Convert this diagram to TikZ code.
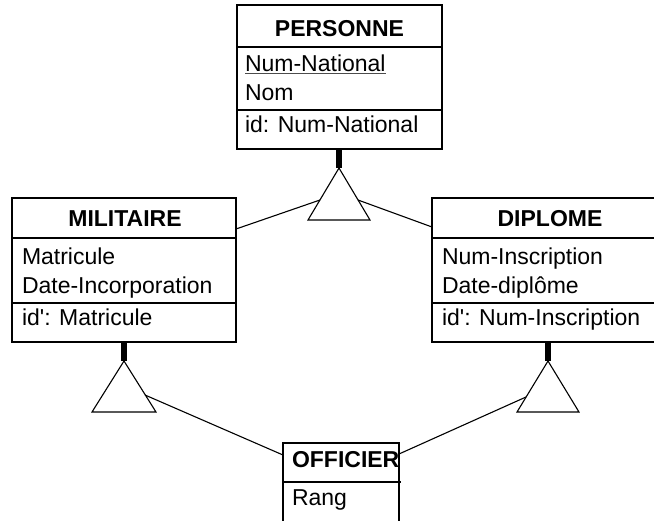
\documentclass[tikz,border=0pt]{standalone}
\usepackage{fontspec}
\setmainfont{Liberation Sans}[Ligatures=TeXOff]
\begin{document}
\begin{tikzpicture}[x=1pt,y=-1pt,
  every node/.style={inner sep=0pt,outer sep=0pt},
  entity/.style={draw,line width=1.1pt,rectangle,anchor=north west},
  sepline/.style={line width=1.1pt},
  title/.style={anchor=base,font=\fontsize{23}{27}\selectfont\bfseries},
  attr/.style={anchor=base west,font=\fontsize{23}{27}\selectfont},
  isabar/.style={line width=5.5pt},
  isatri/.style={draw,line width=1.1pt,fill=white,line join=miter},
  link/.style={line width=1.1pt}]
\useasboundingbox (0,0) rectangle (654,520);
\clip (0,0) rectangle (654,520);

% PERSONNE
\node[entity,minimum width=205pt,minimum height=144pt] (pers) at (237,5) {};
\draw[sepline] (237,47) -- (442,47) (237,110) -- (442,110);
\node[title] (persT) at (339.5,36) {PERSONNE};
\node[attr] (persA1) at (245,71) {Num-National};
\draw[line width=0.9pt,black!70] (persA1.base west) ++(0,2.5) -- (persA1.base east |- 0,73.5);
\node[attr] (persA2) at (245,100) {Nom};
\node[attr] (persI) at (245,132) {id: Num-National};

% MILITAIRE
\node[entity,minimum width=224pt,minimum height=144pt] (mil) at (12,198) {};
\draw[sepline] (12,238) -- (236,238) (12,303) -- (236,303);
\node[title] (milT) at (125,226) {MILITAIRE};
\node[attr] (milA1) at (22,264) {Matricule};
\node[attr] (milA2) at (22,293) {Date-Incorporation};
\node[attr] (milI) at (22,325) {id': Matricule};

% DIPLOME
\node[entity,minimum width=240pt,minimum height=144pt] (dip) at (432,198) {};
\draw[sepline] (432,238) -- (672,238) (432,303) -- (672,303);
\node[title] (dipT) at (550,226) {DIPLOME};
\node[attr] (dipA1) at (442,264) {Num-Inscription};
\node[attr] (dipA2) at (442,293) {Date-diplôme};
\node[attr] (dipI) at (442,325) {id': Num-Inscription};

% OFFICIER
\node[entity,minimum width=116pt,minimum height=100pt] (off) at (283,443) {};
\draw[sepline] (283,482) -- (401,482);
\node[attr,font=\fontsize{23}{27}\selectfont\bfseries] (offT) at (292,467) {OFFICIER};
\node[attr] (offA1) at (292,505) {Rang};

% is-a triangles
\coordinate (t1) at (339,168);
\coordinate (t2) at (124,361);
\coordinate (t3) at (548,361);
\draw[isabar] (pers.south -| t1) -- (t1);
\draw[isabar] (mil.south -| t2) -- (t2);
\draw[isabar] (dip.south -| t3) -- (t3);
\draw[isatri] (t1) -- ++(-31,52) -- ++(62,0) -- cycle;
\draw[isatri] (t2) -- ++(-32,51) -- ++(64,0) -- cycle;
\draw[isatri] (t3) -- ++(-31,51) -- ++(62,0) -- cycle;

% connector end points on the triangle sides and entity edges
\path (t1) ++(-19,32) coordinate (t1L) ++(38,0) coordinate (t1R);
\path (t2) ++(21,34) coordinate (t2R);
\path (t3) ++(-22,36) coordinate (t3L);
\coordinate (milE) at (mil.north east |- 0,229);
\coordinate (dipE) at (dip.north west |- 0,227);
\coordinate (offL) at (off.north west |- 0,455);
\coordinate (offR) at (off.north east |- 0,454);
\draw[link] (t1L) -- (milE);
\draw[link] (t1R) -- (dipE);
\draw[link] (t2R) -- (offL);
\draw[link] (t3L) -- (offR);
\end{tikzpicture}
\end{document}
